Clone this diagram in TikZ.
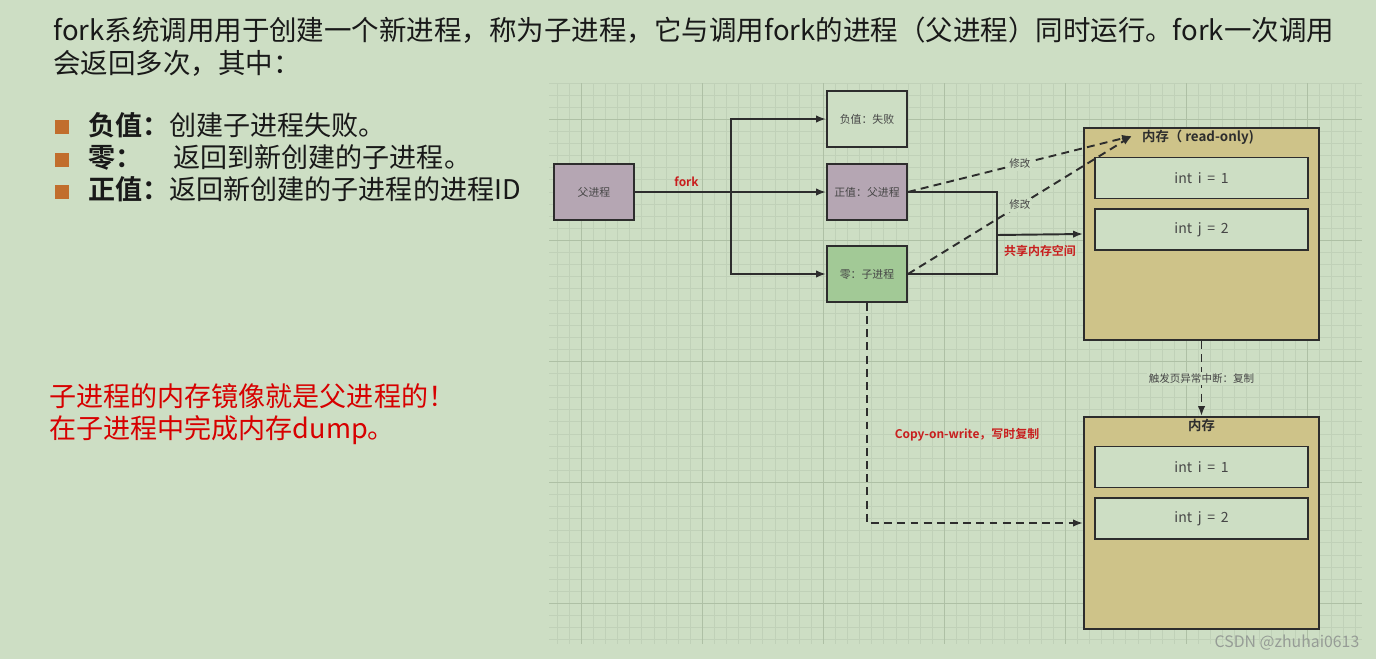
\documentclass[tikz,border=0pt]{standalone}
\usepackage{fontspec}
\setmainfont{Noto Sans CJK SC}[BoldFont={Noto Sans CJK SC Bold}]
\newfontfamily\cellfont{Noto Sans CJK SC}[WordSpace=1.8]
\usepackage{tikz}
\usetikzlibrary{arrows.meta, positioning}
\definecolor{bgc}{RGB}{205,222,196}
\definecolor{gridc}{RGB}{192,209,184}
\definecolor{gridm}{RGB}{174,192,165}
\definecolor{linec}{RGB}{45,45,45}
\definecolor{labc}{RGB}{70,70,70}
\definecolor{procc}{RGB}{181,166,179}
\definecolor{childc}{RGB}{162,201,150}
\definecolor{memc}{RGB}{206,195,137}
\definecolor{bulc}{RGB}{193,110,45}
\definecolor{notec}{RGB}{215,0,0}
\definecolor{diagred}{RGB}{200,30,30}
\definecolor{markc}{RGB}{150,156,150}

\begin{document}
\begin{tikzpicture}[x=0.02cm, y=-0.02cm,
every node/.style={inner sep=0pt},
bigtext/.style={anchor=base west, font=\fontsize{15.65}{19}\selectfont, text=black!90},
itemtext/.style={anchor=base west, font=\fontsize{15.4}{18}\selectfont, text=black!90},
notetext/.style={anchor=base west, font=\fontsize{15.4}{18}\selectfont, text=notec},
bulletsq/.style={rectangle, fill=bulc, minimum width=0.3cm, minimum height=0.27cm},
box/.style={rectangle, draw=linec, line width=1.1pt, fill=bgc, minimum width=1.6cm, minimum height=1.12cm, font=\fontsize{6.2}{7}\selectfont, text=labc},
procbox/.style={box, fill=procc},
childbox/.style={box, fill=childc},
membox/.style={rectangle, draw=linec, line width=1.1pt, fill=memc, minimum width=4.7cm, minimum height=4.24cm},
memtitle/.style={font=\bfseries\fontsize{7.6}{9}\selectfont, text=linec},
cellbox/.style={rectangle, draw=linec, line width=1.1pt, fill=bgc, minimum width=4.26cm, minimum height=0.82cm, font=\cellfont\fontsize{8}{9}\selectfont, text=labc},
arrow/.style={-{Latex[length=2mm, width=1.5mm]}, line width=1.1pt, linec},
dasharrow/.style={arrow, dash pattern=on 4.5pt off 3pt},
redlabel/.style={font=\bfseries\fontsize{6.8}{8}\selectfont, text=diagred},
smalllabel/.style={font=\fontsize{6}{7}\selectfont, text=labc, fill=bgc, inner sep=1pt}
]
% Page
\fill[bgc] (0,0) rectangle (1376,659);
\useasboundingbox (0,0) rectangle (1376,659);

% Text on the left
\node[bigtext] (intro1) at (53,40) {fork系统调用用于创建一个新进程，称为子进程，它与调用fork的进程（父进程）同时运行。fork一次调用};
\node[bigtext] (intro2) at (53,73) {会返回多次，其中：};

\node[itemtext] (item1) at (88,135) {\textbf{负值：}创建子进程失败。};
\node[itemtext] (item2) at (88,167.5) {\textbf{零：}\hspace{0.62cm}返回到新创建的子进程。};
\node[itemtext] (item3) at (88,199.5) {\textbf{正值：}返回新创建的子进程的进程ID};
\node[bulletsq] (sq1) at (62,127) {};
\node[bulletsq] (sq2) at (62,160) {};
\node[bulletsq] (sq3) at (62,192) {};

\node[notetext] (note1) at (49,406) {子进程的内存镜像就是父进程的！};
\node[notetext] (note2) at (49,438) {在子进程中完成内存dump。};

% Grid behind the diagram
\begin{scope}
\clip (549,83) rectangle (1362,644);
\foreach \k in {0,...,68}
  \draw[gridc, line width=0.4pt] (545+12.1*\k,83) -- (545+12.1*\k,644);
\foreach \k in {0,...,47}
  \draw[gridc, line width=0.4pt] (549,83+12.1*\k) -- (1362,83+12.1*\k);
\foreach \m in {0,...,6}
  \draw[gridm, line width=0.6pt] (581.3+121*\m,83) -- (581.3+121*\m,644);
\foreach \m in {0,...,4}
  \draw[gridm, line width=0.6pt] (549,119.3+121*\m) -- (1362,119.3+121*\m);
\end{scope}

% Processes
\node[procbox] (parent) at (594,192) {父进程};
\node[box] (neg) at (867,119) {负值：失败};
\node[procbox] (pos) at (867,192) {正值：父进程};
\node[childbox] (zero) at (867,274) {零：子进程};

% Memory
\node[membox] (mem1) at (1201.5,234) {};
\node[memtitle, below=1.6pt of mem1.north, xshift=-0.07cm] (mem1t) {内存（ read-only)};
\node[cellbox, below=0.59cm of mem1.north] (i1) {int i = 1};
\node[cellbox, below=0.18cm of i1] (j1) {int j = 2};

\node[membox] (mem2) at (1201.5,523) {};
\node[memtitle, below=1.6pt of mem2.north] (mem2t) {内存};
\node[cellbox, below=0.59cm of mem2.north] (i2) {int i = 1};
\node[cellbox, below=0.18cm of i2] (j2) {int j = 2};

% fork
\coordinate (split) at (731,192);
\draw[arrow] (parent.east) -- (pos.west) node[redlabel, pos=0.27, above=2.5pt] {fork};
\draw[arrow] (split) |- (neg.west);
\draw[arrow] (split) |- (zero.west);

% shared memory
\coordinate (share) at (997,235);
\draw[line width=1.1pt, linec] (pos.east) -| (share) |- (zero.east);
\draw[arrow] (share) -- (mem1.west) node[redlabel, midway, below=5.5pt] {共享内存空间};

% writes
\coordinate (wr) at (1132,136);
\draw[dasharrow] (pos.east) -- (wr) node[smalllabel, midway] {修改};
\draw[dasharrow] (zero.east) -- (wr) node[smalllabel, midway] {修改};

% copy on write
\draw[dasharrow] (mem1.south) -- (mem2.north) node[smalllabel, midway] {触发页异常中断：复制};
\draw[dasharrow] (zero.south) |- (mem2.west);
\node[redlabel] (cow) at (967,435) {Copy-on-write，写时复制};

\node[font=\fontsize{9}{10}\selectfont, text=markc] (mark) at (1287,643) {CSDN @zhuhai0613};
\end{tikzpicture}
\end{document}
